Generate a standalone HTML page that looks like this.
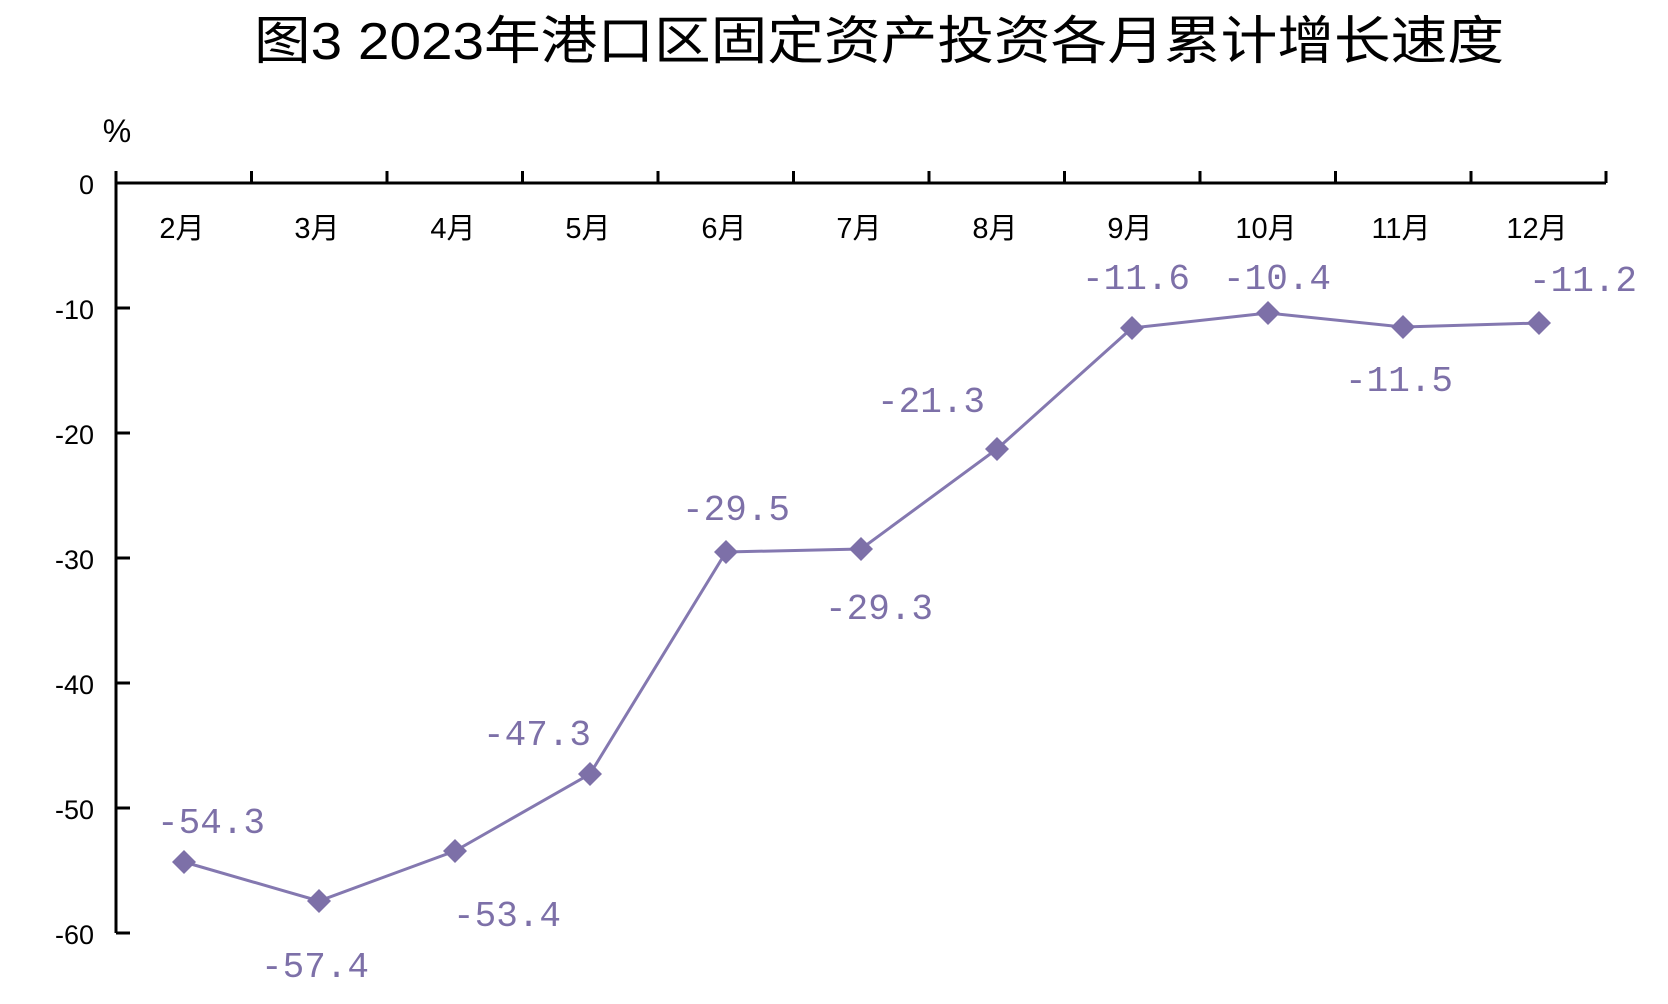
<!DOCTYPE html>
<html><head><meta charset="utf-8"><style>
html,body{margin:0;padding:0;background:#fff;}
</style></head><body>
<svg width="1668" height="999" viewBox="0 0 1668 999" xmlns="http://www.w3.org/2000/svg">
<text x="879" y="59" text-anchor="middle" font-family="Liberation Sans, Noto Sans CJK SC, sans-serif" font-size="52" fill="#000" textLength="1250" lengthAdjust="spacingAndGlyphs">图3  2023年港口区固定资产投资各月累计增长速度</text>
<text x="117" y="142" text-anchor="middle" font-family="Liberation Sans, sans-serif" font-size="32" fill="#000">%</text>
<g stroke="#000" stroke-width="3" fill="none">
<line x1="116" y1="183" x2="116" y2="933"/>
<line x1="116" y1="183" x2="1606" y2="183"/>
<line x1="116" y1="933" x2="130" y2="933"/>
<line x1="116" y1="808" x2="130" y2="808"/>
<line x1="116" y1="683" x2="130" y2="683"/>
<line x1="116" y1="558" x2="130" y2="558"/>
<line x1="116" y1="433" x2="130" y2="433"/>
<line x1="116" y1="308" x2="130" y2="308"/>
<line x1="116" y1="183" x2="116" y2="171"/>
<line x1="251.5" y1="183" x2="251.5" y2="171"/>
<line x1="387" y1="183" x2="387" y2="171"/>
<line x1="522.5" y1="183" x2="522.5" y2="171"/>
<line x1="658" y1="183" x2="658" y2="171"/>
<line x1="793.5" y1="183" x2="793.5" y2="171"/>
<line x1="929" y1="183" x2="929" y2="171"/>
<line x1="1064.5" y1="183" x2="1064.5" y2="171"/>
<line x1="1200" y1="183" x2="1200" y2="171"/>
<line x1="1335.5" y1="183" x2="1335.5" y2="171"/>
<line x1="1471" y1="183" x2="1471" y2="171"/>
<line x1="1606" y1="183" x2="1606" y2="171"/>
</g>
<g font-family="Liberation Sans, sans-serif" font-size="27" fill="#000" text-anchor="end">
<text x="94" y="194">0</text><text x="94" y="319">-10</text><text x="94" y="444">-20</text><text x="94" y="569">-30</text><text x="94" y="694">-40</text><text x="94" y="819">-50</text><text x="94" y="944">-60</text>
</g>
<g font-family="Liberation Sans, Noto Sans CJK SC, sans-serif" font-size="29" fill="#000" text-anchor="middle">
<text x="182" y="238">2月</text><text x="317" y="238">3月</text><text x="453" y="238">4月</text><text x="588" y="238">5月</text><text x="724" y="238">6月</text><text x="859" y="238">7月</text><text x="995" y="238">8月</text><text x="1130" y="238">9月</text><text x="1266" y="238">10月</text><text x="1401" y="238">11月</text><text x="1537" y="238">12月</text>
</g>
<polyline fill="none" stroke="#8478b0" stroke-width="3" points="184,862 319,901 455,851 590,774 726,552 861,549 997,449 1132,328 1268,313 1403,327 1539,323"/>
<g fill="#7d70a8">
<path d="M184,850l12,12l-12,12l-12,-12z"/><path d="M319,889l12,12l-12,12l-12,-12z"/><path d="M455,839l12,12l-12,12l-12,-12z"/><path d="M590,762l12,12l-12,12l-12,-12z"/><path d="M726,540l12,12l-12,12l-12,-12z"/><path d="M861,537l12,12l-12,12l-12,-12z"/><path d="M997,437l12,12l-12,12l-12,-12z"/><path d="M1132,316l12,12l-12,12l-12,-12z"/><path d="M1268,301l12,12l-12,12l-12,-12z"/><path d="M1403,315l12,12l-12,12l-12,-12z"/><path d="M1539,311l12,12l-12,12l-12,-12z"/>
</g>
<g font-family="Liberation Mono, monospace" font-size="36" fill="#7d70a8" text-anchor="middle">
<text x="211" y="833">-54.3</text><text x="315" y="977">-57.4</text><text x="507" y="926">-53.4</text><text x="537" y="745">-47.3</text><text x="736" y="520">-29.5</text><text x="879" y="619">-29.3</text><text x="931" y="412">-21.3</text><text x="1136" y="289">-11.6</text><text x="1277" y="289">-10.4</text><text x="1399" y="391">-11.5</text><text x="1583" y="291">-11.2</text>
</g>
</svg>
</body></html>
